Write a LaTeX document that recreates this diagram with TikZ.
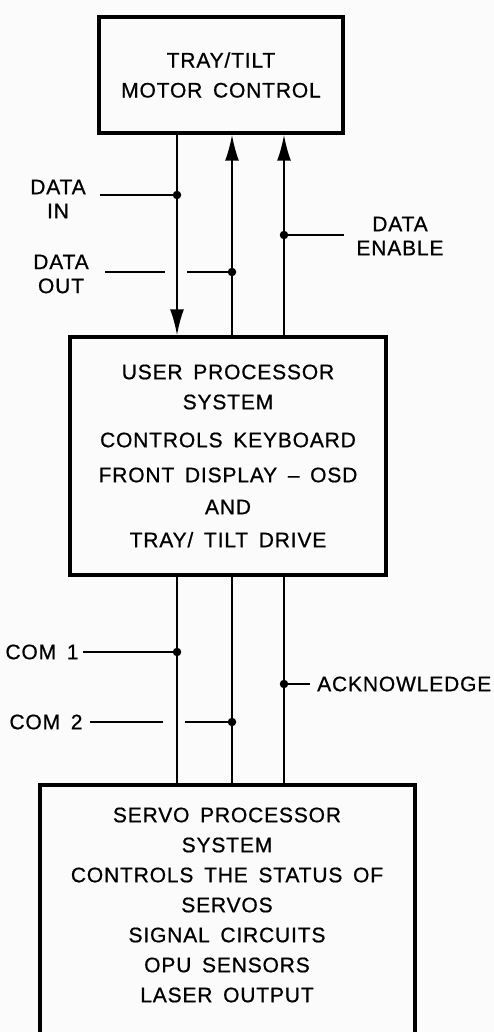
\documentclass[tikz,border=0pt]{standalone}
\usepackage{fontspec}
\setmainfont{Liberation Sans}[LetterSpace=4,WordSpace=1.6,FakeBold=0.7]
\usetikzlibrary{arrows.meta}
\definecolor{paper}{RGB}{251,251,252}
\begin{document}
\begin{tikzpicture}[x=1pt,y=-1pt,
  box/.style={draw,line width=3.5pt,inner sep=0pt},
  wire/.style={line width=1.9pt},
  arr/.style={wire,-{Latex[length=26pt,width=14pt]}},
  lbl/.style={font=\fontsize{21}{24}\selectfont,align=center,inner sep=0pt},
  boxtxt/.style={font=\fontsize{21}{30}\selectfont,align=center,inner sep=0pt},
  jdot/.style={circle,fill,inner sep=0pt,minimum size=8.5pt}]
\useasboundingbox (0,0) rectangle (494,1032);
\clip (0,0) rectangle (494,1032);
\fill[paper] (0,0) rectangle (494,1032);

% boxes
\node[box,boxtxt,minimum width=244pt,minimum height=116pt] (tray) at (221,75)
  {TRAY/TILT\\MOTOR CONTROL};
\node[box,boxtxt,minimum width=316pt,minimum height=238pt] (user) at (228,456)
  {USER PROCESSOR\\SYSTEM\\[8pt]CONTROLS KEYBOARD\\[5pt]FRONT DISPLAY – OSD\\[2pt]AND\\[3pt]TRAY/ TILT DRIVE};
\node[box,minimum width=375pt,minimum height=270pt] (servo) at (227.5,920) {};
\node[boxtxt] (servotxt) at (227,905)
  {SERVO PROCESSOR\\SYSTEM\\CONTROLS THE STATUS OF\\SERVOS\\SIGNAL CIRCUITS\\OPU SENSORS\\LASER OUTPUT};

% junction dots
\node[jdot] (dIn) at (177,195) {};
\node[jdot] (dEn) at (284,235) {};
\node[jdot] (dOut) at (232,272) {};
\node[jdot] (dC1) at (177,652) {};
\node[jdot] (dAck) at (284,684) {};
\node[jdot] (dC2) at (232,722) {};

% upper buses
\draw[arr] (tray.south -| dIn) -- (user.north -| dIn);
\draw[arr] (user.north -| dOut) -- (tray.south -| dOut);
\draw[arr] (user.north -| dEn) -- (tray.south -| dEn);

% lower buses
\draw[wire] (user.south -| dIn) -- (servo.north -| dIn);
\draw[wire] (user.south -| dOut) -- (servo.north -| dOut);
\draw[wire] (user.south -| dEn) -- (servo.north -| dEn);

% labels
\node[lbl] (lDin) at (58,199) {DATA\\IN};
\node[lbl] (lDout) at (61,274) {DATA\\OUT};
\node[lbl] (lDen) at (400,236) {DATA\\ENABLE};
\node[lbl] (lC1) at (42,652) {COM 1};
\node[lbl,anchor=west] (lAck) at (317,684) {ACKNOWLEDGE};
\node[lbl] (lC2) at (46,722) {COM 2};

% label wires
\coordinate (dinS) at (100,195);
\coordinate (doutS) at (105,272);
\coordinate (doutG1) at (165,272);
\coordinate (doutG2) at (187,272);
\coordinate (denE) at (344,235);
\coordinate (c1S) at (83,652);
\coordinate (ackE) at (310,684);
\coordinate (c2S) at (90,722);
\coordinate (c2G1) at (163,722);
\coordinate (c2G2) at (185,722);

\draw[wire] (dinS) -- (dIn);
\draw[wire] (doutS) -- (doutG1) (doutG2) -- (dOut);
\draw[wire] (dEn) -- (denE);
\draw[wire] (c1S) -- (dC1);
\draw[wire] (dAck) -- (ackE);
\draw[wire] (c2S) -- (c2G1) (c2G2) -- (dC2);
\end{tikzpicture}
\end{document}
